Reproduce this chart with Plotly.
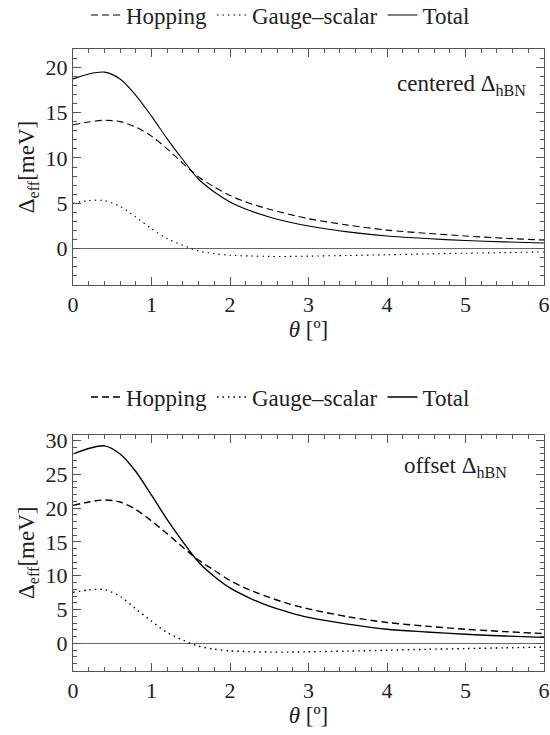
import plotly.graph_objects as go

theta = [0, 0.2, 0.4, 0.6, 0.8, 1.0, 1.2, 1.4, 1.6, 1.8, 2.0, 2.25, 2.5, 2.75, 3.0, 3.5, 4.0, 4.5, 5.0, 5.5, 6.0]

# centered Delta_hBN
hop_c = [13.65, 13.95, 14.15, 14.0, 13.4, 12.4, 11.0, 9.4, 7.9, 6.8, 5.85, 5.0, 4.35, 3.8, 3.3, 2.6, 2.05, 1.7, 1.4, 1.15, 0.95]
gauge_c = [5.0, 5.3, 5.3, 4.65, 3.5, 2.2, 1.1, 0.37, -0.26, -0.55, -0.72, -0.8, -0.85, -0.85, -0.82, -0.75, -0.67, -0.58, -0.5, -0.43, -0.36]
total_c = [18.7, 19.25, 19.45, 18.7, 16.9, 14.6, 12.1, 9.8, 7.65, 6.25, 5.15, 4.2, 3.5, 2.95, 2.5, 1.85, 1.4, 1.12, 0.9, 0.75, 0.63]

# offset Delta_hBN
hop_o = [20.4, 20.9, 21.2, 20.9, 19.8, 18.1, 16.2, 14.2, 12.3, 10.8, 9.3, 7.9, 6.8, 5.85, 5.1, 3.95, 3.1, 2.55, 2.1, 1.75, 1.45]
gauge_o = [7.55, 7.9, 7.95, 6.95, 5.1, 3.3, 1.6, 0.5, -0.4, -0.85, -1.1, -1.22, -1.28, -1.28, -1.24, -1.13, -1.0, -0.87, -0.76, -0.65, -0.55]
total_o = [28.0, 28.8, 29.2, 28.0, 25.4, 21.9, 18.3, 15.0, 12.0, 9.9, 8.2, 6.7, 5.5, 4.6, 3.85, 2.85, 2.1, 1.7, 1.35, 1.1, 0.9]

series_names = ["Hopping", "Gauge\u2012scalar", "Total"]
x_ticks = [0, 1, 2, 3, 4, 5, 6]
y_ticks_c = [0, 5, 10, 15, 20]
y_ticks_o = [0, 5, 10, 15, 20, 25, 30]

FONT = "Liberation Serif"
W, H = 550, 735
dashes = ["7px,4px", "1.5px,4px", "solid"]

fig = go.Figure()

def add_panel(vals, xa, ya, legend, lw):
    for name, v, d in zip(series_names, vals, dashes):
        fig.add_trace(go.Scatter(
            x=theta, y=v, mode="lines", name=name,
            line=dict(color="black", width=lw, dash=d, shape="spline", smoothing=0.8),
            xaxis=xa, yaxis=ya, legend=legend,
        ))

add_panel([hop_c, gauge_c, total_c], "x", "y", "legend", 1.1)
add_panel([hop_o, gauge_o, total_o], "x2", "y2", "legend2", 1.4)

xl, xr = 73 / W, 544 / W
top_dom = [1 - 285 / H, 1 - 49 / H]
bot_dom = [1 - 670.5 / H, 1 - 435 / H]

def xaxis(domain_anchor):
    return dict(
        domain=[xl, xr], anchor=domain_anchor, range=[0, 6],
        tickvals=x_ticks, ticks="inside", ticklen=8, tickcolor="#555",
        showline=True, linecolor="#555", linewidth=1, mirror="ticks",
        showgrid=False, zeroline=False, ticklabeloverflow="allow",
        minor=dict(dtick=0.2, ticks="inside", ticklen=4, tickcolor="#555", showgrid=False),
        tickfont=dict(family=FONT, size=22, color="#222"),
        title=dict(text="<i>θ</i> [º]", font=dict(family=FONT, size=23, color="#222"), standoff=4),
    )

def yaxis(domain, rng, ticks, anchor):
    return dict(
        domain=domain, anchor=anchor, range=rng,
        tickvals=ticks, ticks="inside", ticklen=8, tickcolor="#555",
        showline=True, linecolor="#555", linewidth=1, mirror="ticks",
        showgrid=False, zeroline=True, zerolinecolor="#666", zerolinewidth=1.3,
        ticklabeloverflow="allow",
        minor=dict(dtick=1, ticks="inside", ticklen=4, tickcolor="#555", showgrid=False),
        tickfont=dict(family=FONT, size=22, color="#222"),
        title=dict(text="Δ<sub>eff</sub>[meV]", font=dict(family=FONT, size=23, color="#222"), standoff=4),
    )

legend_style = dict(
    orientation="h", xanchor="center", yanchor="middle",
    font=dict(family=FONT, size=23, color="#222"),
    bgcolor="rgba(0,0,0,0)", itemwidth=30, tracegroupgap=0,
)

fig.update_layout(
    width=W, height=H,
    margin=dict(l=0, r=0, t=0, b=0, autoexpand=False),
    paper_bgcolor="white", plot_bgcolor="white",
    font=dict(family=FONT),
    xaxis=xaxis("y"),
    yaxis=yaxis(top_dom, [-4, 22], y_ticks_c, "x"),
    xaxis2=xaxis("y2"),
    yaxis2=yaxis(bot_dom, [-4, 30.8], y_ticks_o, "x2"),
    legend=dict(x=0.51, y=1 - 15 / H, **legend_style),
    legend2=dict(x=0.51, y=1 - 397 / H, **legend_style),
    annotations=[
        dict(text="centered Δ<sub>hBN</sub>", x=5.8, y=18.0, xref="x", yref="y",
             xanchor="right", yanchor="middle", showarrow=False,
             font=dict(family=FONT, size=23, color="#222")),
        dict(text="offset Δ<sub>hBN</sub>", x=5.55, y=26.0, xref="x2", yref="y2",
             xanchor="right", yanchor="middle", showarrow=False,
             font=dict(family=FONT, size=23, color="#222")),
    ],
    showlegend=True,
)

fig.write_html(
    "out.html",
    config={"displayModeBar": False},
    post_script="document.body.style.margin='0';document.body.style.overflow='hidden';",
)
